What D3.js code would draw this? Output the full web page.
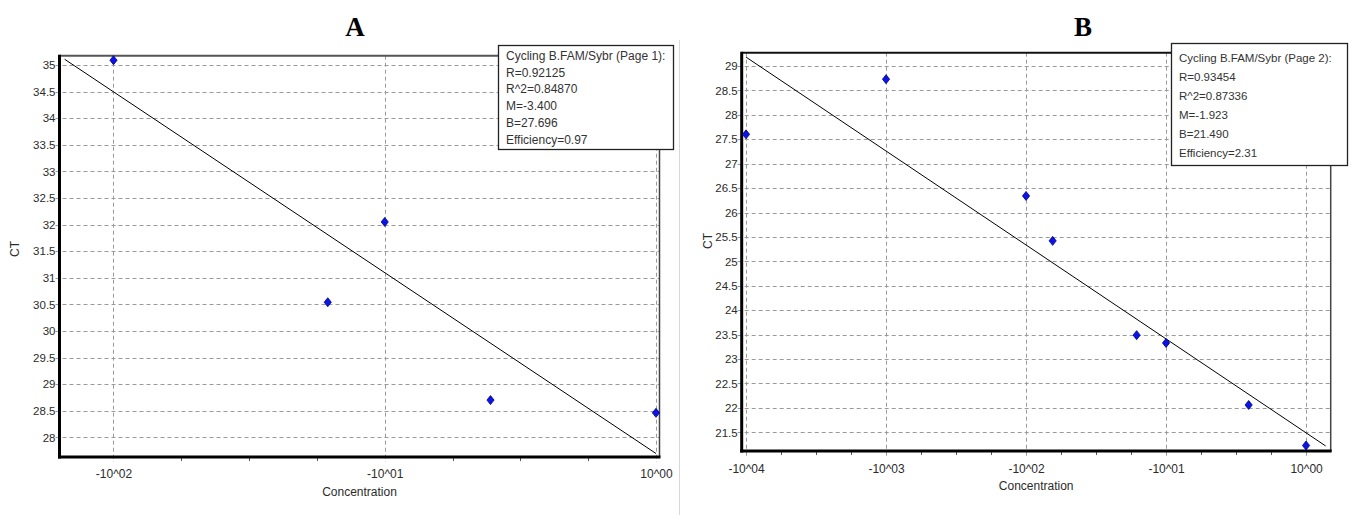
<!DOCTYPE html>
<html>
<head>
<meta charset="utf-8">
<script src="https://cdn.jsdelivr.net/npm/d3@7/dist/d3.min.js"></script>
<style>
  html, body { margin: 0; padding: 0; background: #fff; }
  svg { display: block; }
  text { font-family: Arial, "Liberation Sans", sans-serif; }
</style>
</head>
<body>
<svg id="chart" width="1350" height="515"></svg>
<script>
// ---- Panel A: standard curve, page 1 ----
const concA = [-2, -1.21, -1, -0.61, 0];          // decade position of each standard
const ctA = [35.09, 30.54, 32.05, 28.70, 28.46];   // measured CT
const xTicksA = [-2, -1, 0];
const xTickLabelsA = ["-10^02", "-10^01", "10^00"];
const yTicksA = [28, 28.5, 29, 29.5, 30, 30.5, 31, 31.5, 32, 32.5, 33, 33.5, 34, 34.5, 35];
const slopeA = -3.400;
const interceptA = 27.696;
const fitExtentA = [-2.18, 0];
const legendA = ["Cycling B.FAM/Sybr (Page 1):", "R=0.92125", "R^2=0.84870", "M=-3.400", "B=27.696", "Efficiency=0.97"];

// ---- Panel B: standard curve, page 2 ----
const concB = [-4, -3, -2, -1.81, -1.21, -1, -0.41, 0];
const ctB = [27.60, 28.73, 26.34, 25.42, 23.49, 23.33, 22.06, 21.23];
const xTicksB = [-4, -3, -2, -1, 0];
const xTickLabelsB = ["-10^04", "-10^03", "-10^02", "-10^01", "10^00"];
const yTicksB = [21.5, 22, 22.5, 23, 23.5, 24, 24.5, 25, 25.5, 26, 26.5, 27, 27.5, 28, 28.5, 29];
const slopeB = -1.923;
const interceptB = 21.490;
const fitExtentB = [-4, 0.14];
const legendB = ["Cycling B.FAM/Sybr (Page 2):", "R=0.93454", "R^2=0.87336", "M=-1.923", "B=21.490", "Efficiency=2.31"];

const svg = d3.select("#chart");

// faint divider between the two panels
svg.append("line").attr("x1", 679.5).attr("x2", 679.5).attr("y1", 40).attr("y2", 515)
  .attr("stroke", "#d8d8d8").attr("stroke-width", 1);

function drawPanel(cfg) {
  const g = svg.append("g");
  const x = d3.scaleLinear().domain(cfg.xDomain).range([cfg.left, cfg.right]);
  const y = d3.scaleLinear().domain(cfg.yDomain).range([cfg.bottom, cfg.top]);

  // panel letter
  g.append("text").attr("x", cfg.titleX).attr("y", 36).attr("text-anchor", "middle")
    .style("font-family", "'Liberation Serif', 'Times New Roman', serif")
    .style("font-weight", "bold").style("font-size", "27px").attr("fill", "#000")
    .text(cfg.title);

  // dashed grid
  g.append("g").selectAll("line").data(cfg.yTicks).join("line")
    .attr("x1", cfg.left - 4).attr("x2", cfg.right)
    .attr("y1", d => Math.round(y(d)) + 0.5).attr("y2", d => Math.round(y(d)) + 0.5)
    .attr("stroke", "#9a9a9a").attr("stroke-dasharray", "4,3");
  g.append("g").selectAll("line").data(cfg.xTicks).join("line")
    .attr("y1", cfg.top).attr("y2", cfg.bottom + 5)
    .attr("x1", d => Math.round(x(d)) + 0.5).attr("x2", d => Math.round(x(d)) + 0.5)
    .attr("stroke", "#9a9a9a").attr("stroke-dasharray", "4,3");

  // y axis labels
  const yAxis = d3.axisLeft(y).tickValues(cfg.yTicks).tickSize(0).tickPadding(0)
    .tickFormat(d3.format("~g"));
  const ya = g.append("g").attr("transform", `translate(${cfg.left - 4},0)`).call(yAxis);
  ya.select(".domain").remove();
  ya.selectAll("text").style("font-size", "11.5px").attr("fill", "#2b2b2b");

  // x axis: major labels + minor ticks
  const minor = [];
  for (let i = 0; i < cfg.xTicks.length - 1; i++) {
    const a = cfg.xTicks[i], b = cfg.xTicks[i + 1];
    [1, 2, 3].forEach(k => minor.push(a + (b - a) * k / 4));
  }
  g.append("g").selectAll("line").data(minor).join("line")
    .attr("x1", d => Math.round(x(d)) + 0.5).attr("x2", d => Math.round(x(d)) + 0.5)
    .attr("y1", cfg.bottom).attr("y2", cfg.bottom + 4)
    .attr("stroke", "#555");
  const xAxis = d3.axisBottom(x).tickValues(cfg.xTicks).tickSize(0).tickPadding(0)
    .tickFormat((d, i) => cfg.xLabels[i]);
  const xa = g.append("g").attr("transform", `translate(0,${cfg.labelY})`).call(xAxis);
  xa.select(".domain").remove();
  xa.selectAll("text").attr("dy", "0").style("font-size", "12px").attr("fill", "#2b2b2b");

  // axis titles
  g.append("text").attr("x", (cfg.left + cfg.right) / 2).attr("y", cfg.bottom + 39)
    .attr("text-anchor", "middle").style("font-size", "12px").attr("fill", "#2b2b2b")
    .text("Concentration");
  g.append("text").attr("transform", `translate(${cfg.ctX},${cfg.ctY}) rotate(-90)`)
    .attr("text-anchor", "middle").style("font-size", "12px").attr("fill", "#2b2b2b")
    .text("CT");

  // frame: thin top/right, heavy left/bottom
  g.append("line").attr("x1", cfg.left).attr("x2", cfg.right).attr("y1", cfg.top).attr("y2", cfg.top)
    .attr("stroke", cfg.topColor).attr("stroke-width", 2);
  g.append("line").attr("x1", cfg.right).attr("x2", cfg.right).attr("y1", cfg.top).attr("y2", cfg.bottom)
    .attr("stroke", "#444").attr("stroke-width", 1.5);
  g.append("line").attr("x1", cfg.left).attr("x2", cfg.left).attr("y1", cfg.top - 1).attr("y2", cfg.bottom + 1.5)
    .attr("stroke", "#000").attr("stroke-width", 3);
  g.append("line").attr("x1", cfg.left - 1.5).attr("x2", cfg.right + 1).attr("y1", cfg.bottom).attr("y2", cfg.bottom)
    .attr("stroke", "#000").attr("stroke-width", 3);

  // regression line
  const fit = d3.line().x(d => x(d)).y(d => y(cfg.intercept + cfg.slope * d));
  g.append("path").attr("d", fit(cfg.fitExtent)).attr("fill", "none")
    .attr("stroke", "#000").attr("stroke-width", 1);

  // standards as blue diamonds
  const pts = cfg.conc.map((c, i) => ({ c, ct: cfg.ct[i] }));
  g.append("g").selectAll("path").data(pts).join("path")
    .attr("d", "M0,-4.5 L3.6,0 L0,4.5 L-3.6,0 Z")
    .attr("transform", d => `translate(${x(d.c)},${y(d.ct)})`)
    .attr("fill", "#0a14e6").attr("stroke", "#000080").attr("stroke-width", 0.8);

  // legend box with regression stats
  const lg = g.append("g");
  lg.append("rect").attr("x", cfg.legX + 0.5).attr("y", cfg.legY + 0.5)
    .attr("width", cfg.legW).attr("height", cfg.legH)
    .attr("fill", "#fff").attr("stroke", "#222").attr("stroke-width", 1.3);
  lg.selectAll("text").data(cfg.legend).join("text")
    .attr("x", cfg.legX + 8).attr("y", (d, i) => cfg.legY + cfg.legFirst + i * cfg.legStep)
    .style("font-size", cfg.legFont).attr("fill", "#333")
    .text(d => d);
}

drawPanel({
  title: "A", titleX: 355,
  left: 59.5, right: 659.5, top: 55.7, bottom: 457,
  xDomain: [-2.199, 0.013], yDomain: [27.63, 35.175],
  xTicks: xTicksA, xLabels: xTickLabelsA, yTicks: yTicksA,
  labelY: 478, ctX: 19, ctY: 249,
  topColor: "#555",
  conc: concA, ct: ctA, slope: slopeA, intercept: interceptA, fitExtent: fitExtentA,
  legend: legendA, legX: 498, legY: 45, legW: 175, legH: 104,
  legFirst: 15, legStep: 16.7, legFont: "12px"
});

drawPanel({
  title: "B", titleX: 1083,
  left: 741.7, right: 1330.7, top: 52.7, bottom: 451,
  xDomain: [-4.031, 0.176], yDomain: [21.118, 29.272],
  xTicks: xTicksB, xLabels: xTickLabelsB, yTicks: yTicksB,
  labelY: 473, ctX: 712, ctY: 241,
  topColor: "#111",
  conc: concB, ct: ctB, slope: slopeB, intercept: interceptB, fitExtent: fitExtentB,
  legend: legendB, legX: 1171, legY: 43, legW: 176, legH: 122,
  legFirst: 18.5, legStep: 19, legFont: "11.5px"
});
</script>
</body>
</html>
